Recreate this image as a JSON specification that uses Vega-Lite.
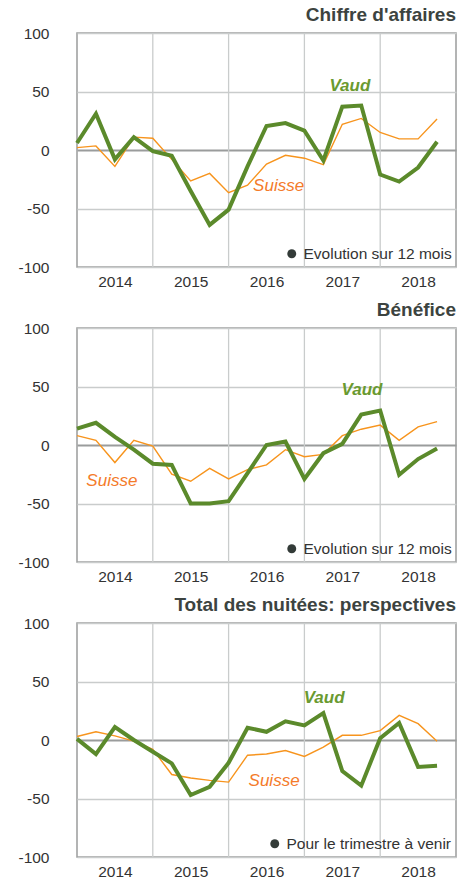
{
  "$schema": "https://vega.github.io/schema/vega-lite/v6.json",
  "background": "white",
  "padding": {"left": 17, "top": 5, "right": 10, "bottom": 0},
  "spacing": 9,
  "config": {
    "font": "Liberation Sans",
    "view": {"stroke": "#9a9c9c", "strokeWidth": 1.5},
    "axis": {"labelFont": "Liberation Sans", "labelFontSize": 15.5, "labelColor": "#333"},
    "legend": {"labelFont": "Liberation Sans", "labelFontSize": 15.5, "labelColor": "#333", "labelLimit": 400},
    "title": {"font": "Liberation Sans", "fontSize": 19, "fontWeight": "bold", "color": "#3c4340", "anchor": "end", "frame": "group", "offset": 1}
  },
  "datasets": {
    "ca": [
      {"t": 2014.0, "vaud": 6, "suisse": 2},
      {"t": 2014.25, "vaud": 31, "suisse": 3.5},
      {"t": 2014.5, "vaud": -8, "suisse": -14},
      {"t": 2014.75, "vaud": 11, "suisse": 11},
      {"t": 2015.0, "vaud": -1, "suisse": 10},
      {"t": 2015.25, "vaud": -5, "suisse": -8},
      {"t": 2015.5, "vaud": -35, "suisse": -26.5},
      {"t": 2015.75, "vaud": -64, "suisse": -20},
      {"t": 2016.0, "vaud": -51, "suisse": -36.5},
      {"t": 2016.25, "vaud": -14, "suisse": -30},
      {"t": 2016.5, "vaud": 20.5, "suisse": -12},
      {"t": 2016.75, "vaud": 23, "suisse": -4.5},
      {"t": 2017.0, "vaud": 16.5, "suisse": -7},
      {"t": 2017.25, "vaud": -9, "suisse": -12.5},
      {"t": 2017.5, "vaud": 37, "suisse": 22},
      {"t": 2017.75, "vaud": 38, "suisse": 27},
      {"t": 2018.0, "vaud": -21, "suisse": 15},
      {"t": 2018.25, "vaud": -27, "suisse": 9.5},
      {"t": 2018.5, "vaud": -15, "suisse": 9.5},
      {"t": 2018.75, "vaud": 7, "suisse": 26.5}
    ],
    "ben": [
      {"t": 2014.0, "vaud": 14, "suisse": 8},
      {"t": 2014.25, "vaud": 19, "suisse": 4},
      {"t": 2014.5, "vaud": 7, "suisse": -15},
      {"t": 2014.75, "vaud": -4, "suisse": 4},
      {"t": 2015.0, "vaud": -16, "suisse": -1},
      {"t": 2015.25, "vaud": -17, "suisse": -25},
      {"t": 2015.5, "vaud": -50, "suisse": -31},
      {"t": 2015.75, "vaud": -50, "suisse": -20},
      {"t": 2016.0, "vaud": -48, "suisse": -29},
      {"t": 2016.25, "vaud": -24, "suisse": -21},
      {"t": 2016.5, "vaud": 0, "suisse": -17},
      {"t": 2016.75, "vaud": 3, "suisse": -4},
      {"t": 2017.0, "vaud": -29, "suisse": -10},
      {"t": 2017.25, "vaud": -7, "suisse": -8},
      {"t": 2017.5, "vaud": 1, "suisse": 8},
      {"t": 2017.75, "vaud": 26, "suisse": 13.5},
      {"t": 2018.0, "vaud": 29.5, "suisse": 17},
      {"t": 2018.25, "vaud": -25.5, "suisse": 4},
      {"t": 2018.5, "vaud": -12, "suisse": 15.5},
      {"t": 2018.75, "vaud": -3, "suisse": 20}
    ],
    "nuit": [
      {"t": 2014.0, "vaud": 1, "suisse": 3},
      {"t": 2014.25, "vaud": -12, "suisse": 7},
      {"t": 2014.5, "vaud": 11, "suisse": 3.5},
      {"t": 2014.75, "vaud": 0, "suisse": -1},
      {"t": 2015.0, "vaud": -10, "suisse": -8},
      {"t": 2015.25, "vaud": -20, "suisse": -29.5},
      {"t": 2015.5, "vaud": -47, "suisse": -32.5},
      {"t": 2015.75, "vaud": -40, "suisse": -34.5},
      {"t": 2016.0, "vaud": -19.5, "suisse": -36},
      {"t": 2016.25, "vaud": 10.5, "suisse": -13},
      {"t": 2016.5, "vaud": 7, "suisse": -12},
      {"t": 2016.75, "vaud": 16, "suisse": -9},
      {"t": 2017.0, "vaud": 12.5, "suisse": -14},
      {"t": 2017.25, "vaud": 23, "suisse": -6},
      {"t": 2017.5, "vaud": -26.5, "suisse": 4},
      {"t": 2017.75, "vaud": -39, "suisse": 4},
      {"t": 2018.0, "vaud": 1.5, "suisse": 8},
      {"t": 2018.25, "vaud": 14.5, "suisse": 21},
      {"t": 2018.5, "vaud": -23, "suisse": 14},
      {"t": 2018.75, "vaud": -22, "suisse": -1}
    ],
    "years": [{"yr": 2015}, {"yr": 2016}, {"yr": 2017}, {"yr": 2018}],
    "lab_ca": [
      {"label": "Vaud", "t": 2017.6, "v": 55},
      {"label": "Suisse", "t": 2016.66, "v": -31}
    ],
    "lab_ben": [
      {"label": "Vaud", "t": 2017.76, "v": 47},
      {"label": "Suisse", "t": 2014.46, "v": -31}
    ],
    "lab_nuit": [
      {"label": "Vaud", "t": 2017.26, "v": 35.5},
      {"label": "Suisse", "t": 2016.6, "v": -35}
    ]
  },
  "resolve": {"scale": {"color": "independent"}, "legend": {"color": "independent"}},
  "vconcat": [
    {
      "title": "Chiffre d'affaires",
      "width": 379,
      "height": 234,
      "layer": [
        {
          "data": {"name": "years"},
          "mark": {"type": "rule", "color": "#c9cccc", "strokeWidth": 1.3},
          "encoding": {
            "x": {"field": "yr", "type": "quantitative", "scale": {"domain": [2014, 2019], "nice": false, "zero": false},
              "axis": {"values": [2014.5, 2015.5, 2016.5, 2017.5, 2018.5], "labelExpr": "floor(datum.value)", "ticks": false, "grid": false, "domain": false, "labelPadding": 7, "title": null}}
          }
        },
        {
          "data": {"name": "ca"},
          "mark": {"type": "line", "color": "#f7941d", "strokeWidth": 1.4},
          "encoding": {
            "x": {"field": "t", "type": "quantitative"},
            "y": {"field": "suisse", "type": "quantitative", "scale": {"domain": [-100, 100], "nice": false},
              "axis": {"values": [-100, -50, 0, 50, 100], "labelExpr": "'' + datum.value", "ticks": false, "domain": false, "labelPadding": 28, "title": null,
                "gridColor": {"condition": {"test": "datum.value === 0", "value": "#9a9c9c"}, "value": "#c9cccc"},
                "gridWidth": {"condition": {"test": "datum.value === 0", "value": 2}, "value": 1.3}}}
          }
        },
        {
          "data": {"name": "ca"},
          "mark": {"type": "line", "color": "#5b8a2b", "strokeWidth": 4},
          "encoding": {
            "x": {"field": "t", "type": "quantitative"},
            "y": {"field": "vaud", "type": "quantitative"}
          }
        },
        {
          "data": {"name": "lab_ca"},
          "transform": [{"filter": "datum.label === 'Vaud'"}],
          "mark": {"type": "text", "fontSize": 17, "fontStyle": "italic", "fontWeight": "bold", "color": "#6a9a30"},
          "encoding": {
            "x": {"field": "t", "type": "quantitative"},
            "y": {"field": "v", "type": "quantitative"},
            "text": {"field": "label"}
          }
        },
        {
          "data": {"name": "lab_ca"},
          "transform": [{"filter": "datum.label === 'Suisse'"}],
          "mark": {"type": "text", "fontSize": 17, "fontStyle": "italic", "color": "#f47b2a"},
          "encoding": {
            "x": {"field": "t", "type": "quantitative"},
            "y": {"field": "v", "type": "quantitative"},
            "text": {"field": "label"}
          }
        },
        {
          "data": {"name": "ca"},
          "mark": {"type": "point", "filled": true, "opacity": 0},
          "encoding": {
            "color": {"datum": "Evolution sur 12 mois", "type": "nominal", "scale": {"range": ["#333b38"]},
              "legend": {"orient": "bottom-right", "title": null, "symbolType": "circle", "symbolSize": 80, "symbolOpacity": 1, "offset": 4, "padding": 0}}
          }
        }
      ]
    },
    {
      "title": "Bénéfice",
      "width": 379,
      "height": 234,
      "layer": [
        {
          "data": {"name": "years"},
          "mark": {"type": "rule", "color": "#c9cccc", "strokeWidth": 1.3},
          "encoding": {
            "x": {"field": "yr", "type": "quantitative", "scale": {"domain": [2014, 2019], "nice": false, "zero": false},
              "axis": {"values": [2014.5, 2015.5, 2016.5, 2017.5, 2018.5], "labelExpr": "floor(datum.value)", "ticks": false, "grid": false, "domain": false, "labelPadding": 7, "title": null}}
          }
        },
        {
          "data": {"name": "ben"},
          "mark": {"type": "line", "color": "#f7941d", "strokeWidth": 1.4},
          "encoding": {
            "x": {"field": "t", "type": "quantitative"},
            "y": {"field": "suisse", "type": "quantitative", "scale": {"domain": [-100, 100], "nice": false},
              "axis": {"values": [-100, -50, 0, 50, 100], "labelExpr": "'' + datum.value", "ticks": false, "domain": false, "labelPadding": 28, "title": null,
                "gridColor": {"condition": {"test": "datum.value === 0", "value": "#9a9c9c"}, "value": "#c9cccc"},
                "gridWidth": {"condition": {"test": "datum.value === 0", "value": 2}, "value": 1.3}}}
          }
        },
        {
          "data": {"name": "ben"},
          "mark": {"type": "line", "color": "#5b8a2b", "strokeWidth": 4},
          "encoding": {
            "x": {"field": "t", "type": "quantitative"},
            "y": {"field": "vaud", "type": "quantitative"}
          }
        },
        {
          "data": {"name": "lab_ben"},
          "transform": [{"filter": "datum.label === 'Vaud'"}],
          "mark": {"type": "text", "fontSize": 17, "fontStyle": "italic", "fontWeight": "bold", "color": "#6a9a30"},
          "encoding": {
            "x": {"field": "t", "type": "quantitative"},
            "y": {"field": "v", "type": "quantitative"},
            "text": {"field": "label"}
          }
        },
        {
          "data": {"name": "lab_ben"},
          "transform": [{"filter": "datum.label === 'Suisse'"}],
          "mark": {"type": "text", "fontSize": 17, "fontStyle": "italic", "color": "#f47b2a"},
          "encoding": {
            "x": {"field": "t", "type": "quantitative"},
            "y": {"field": "v", "type": "quantitative"},
            "text": {"field": "label"}
          }
        },
        {
          "data": {"name": "ben"},
          "mark": {"type": "point", "filled": true, "opacity": 0},
          "encoding": {
            "color": {"datum": "Evolution sur 12 mois ", "type": "nominal", "scale": {"range": ["#333b38"]},
              "legend": {"orient": "bottom-right", "title": null, "symbolType": "circle", "symbolSize": 80, "symbolOpacity": 1, "offset": 4, "padding": 0}}
          }
        }
      ]
    },
    {
      "title": "Total des nuitées: perspectives",
      "width": 379,
      "height": 234,
      "layer": [
        {
          "data": {"name": "years"},
          "mark": {"type": "rule", "color": "#c9cccc", "strokeWidth": 1.3},
          "encoding": {
            "x": {"field": "yr", "type": "quantitative", "scale": {"domain": [2014, 2019], "nice": false, "zero": false},
              "axis": {"values": [2014.5, 2015.5, 2016.5, 2017.5, 2018.5], "labelExpr": "floor(datum.value)", "ticks": false, "grid": false, "domain": false, "labelPadding": 7, "title": null}}
          }
        },
        {
          "data": {"name": "nuit"},
          "mark": {"type": "line", "color": "#f7941d", "strokeWidth": 1.4},
          "encoding": {
            "x": {"field": "t", "type": "quantitative"},
            "y": {"field": "suisse", "type": "quantitative", "scale": {"domain": [-100, 100], "nice": false},
              "axis": {"values": [-100, -50, 0, 50, 100], "labelExpr": "'' + datum.value", "ticks": false, "domain": false, "labelPadding": 28, "title": null,
                "gridColor": {"condition": {"test": "datum.value === 0", "value": "#9a9c9c"}, "value": "#c9cccc"},
                "gridWidth": {"condition": {"test": "datum.value === 0", "value": 2}, "value": 1.3}}}
          }
        },
        {
          "data": {"name": "nuit"},
          "mark": {"type": "line", "color": "#5b8a2b", "strokeWidth": 4},
          "encoding": {
            "x": {"field": "t", "type": "quantitative"},
            "y": {"field": "vaud", "type": "quantitative"}
          }
        },
        {
          "data": {"name": "lab_nuit"},
          "transform": [{"filter": "datum.label === 'Vaud'"}],
          "mark": {"type": "text", "fontSize": 17, "fontStyle": "italic", "fontWeight": "bold", "color": "#6a9a30"},
          "encoding": {
            "x": {"field": "t", "type": "quantitative"},
            "y": {"field": "v", "type": "quantitative"},
            "text": {"field": "label"}
          }
        },
        {
          "data": {"name": "lab_nuit"},
          "transform": [{"filter": "datum.label === 'Suisse'"}],
          "mark": {"type": "text", "fontSize": 17, "fontStyle": "italic", "color": "#f47b2a"},
          "encoding": {
            "x": {"field": "t", "type": "quantitative"},
            "y": {"field": "v", "type": "quantitative"},
            "text": {"field": "label"}
          }
        },
        {
          "data": {"name": "nuit"},
          "mark": {"type": "point", "filled": true, "opacity": 0},
          "encoding": {
            "color": {"datum": "Pour le trimestre à venir", "type": "nominal", "scale": {"range": ["#333b38"]},
              "legend": {"orient": "bottom-right", "title": null, "symbolType": "circle", "symbolSize": 80, "symbolOpacity": 1, "offset": 4, "padding": 0}}
          }
        }
      ]
    }
  ]
}
